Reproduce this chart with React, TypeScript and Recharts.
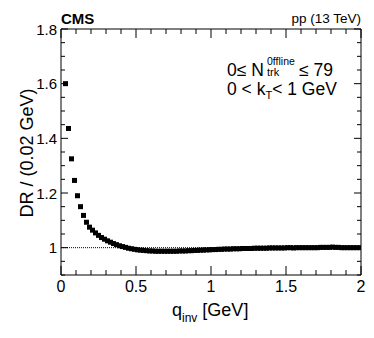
import { ScatterChart, Scatter, XAxis, YAxis, ReferenceLine } from 'recharts';

// bin centres of q_inv (0.02 GeV bins)
const qBins = [
  0.03, 0.05, 0.07, 0.09, 0.11, 0.13, 0.15, 0.17, 0.19, 0.21,
  0.23, 0.25, 0.27, 0.29, 0.31, 0.33, 0.35, 0.37, 0.39, 0.41,
  0.43, 0.45, 0.47, 0.49, 0.51, 0.53, 0.55, 0.57, 0.59, 0.61,
  0.63, 0.65, 0.67, 0.69, 0.71, 0.73, 0.75, 0.77, 0.79, 0.81,
  0.83, 0.85, 0.87, 0.89, 0.91, 0.93, 0.95, 0.97, 0.99, 1.01,
  1.03, 1.05, 1.07, 1.09, 1.11, 1.13, 1.15, 1.17, 1.19, 1.21,
  1.23, 1.25, 1.27, 1.29, 1.31, 1.33, 1.35, 1.37, 1.39, 1.41,
  1.43, 1.45, 1.47, 1.49, 1.51, 1.53, 1.55, 1.57, 1.59, 1.61,
  1.63, 1.65, 1.67, 1.69, 1.71, 1.73, 1.75, 1.77, 1.79, 1.81,
  1.83, 1.85, 1.87, 1.89, 1.91, 1.93, 1.95, 1.97, 1.99,
];

// double ratio per bin
const drValues = [
  1.600, 1.436, 1.325, 1.246, 1.190, 1.150, 1.118, 1.093, 1.075, 1.064,
  1.054, 1.045, 1.037, 1.031, 1.025, 1.020, 1.015, 1.011, 1.007, 1.004,
  1.001, 0.998, 0.996, 0.994, 0.992, 0.991, 0.990, 0.989, 0.988, 0.988,
  0.987, 0.987, 0.987, 0.987, 0.987, 0.987, 0.987, 0.987, 0.988, 0.988,
  0.988, 0.989, 0.989, 0.990, 0.990, 0.991, 0.991, 0.992, 0.992, 0.993,
  0.993, 0.994, 0.994, 0.995, 0.995, 0.995, 0.996, 0.996, 0.996, 0.997,
  0.997, 0.997, 0.997, 0.998, 0.998, 0.998, 0.998, 0.998, 0.999, 0.999,
  0.999, 0.999, 0.999, 0.999, 1.000, 1.000, 0.999, 1.000, 1.000, 1.000,
  1.000, 1.000, 1.000, 1.000, 1.000, 1.001, 1.001, 1.001, 1.001, 1.002,
  1.001, 1.001, 1.000, 1.000, 1.000, 1.000, 1.000, 1.000, 1.000,
];

const xTicks = [
  0, 0.1, 0.2, 0.3, 0.4, 0.5, 0.6, 0.7, 0.8, 0.9, 1,
  1.1, 1.2, 1.3, 1.4, 1.5, 1.6, 1.7, 1.8, 1.9, 2,
];
const yTicks = [
  0.9, 0.95, 1, 1.05, 1.1, 1.15, 1.2, 1.25, 1.3, 1.35,
  1.4, 1.45, 1.5, 1.55, 1.6, 1.65, 1.7, 1.75, 1.8,
];

const points = qBins.map((q, i) => ({ q, dr: drValues[i] }));

const FONT = '"Liberation Sans", Arial, Helvetica, sans-serif';
const W = 374;
const H = 338;
const PLOT_W = 300;
const PLOT_H = 246;

const isMult = (v: number, step: number) => Math.abs(v / step - Math.round(v / step)) < 1e-6;

function XTick(props: any) {
  const { x, y, payload } = props;
  const major = isMult(payload.value, 0.5);
  const len = major ? 9 : 5;
  return (
    <g>
      <line x1={x} x2={x} y1={y} y2={y - len} stroke="#000" />
      <line x1={x} x2={x} y1={y - PLOT_H} y2={y - PLOT_H + len} stroke="#000" />
      {major && (
        <text x={x} y={y + 17} textAnchor="middle" fontSize={16} fontFamily={FONT} fill="#000">
          {String(payload.value)}
        </text>
      )}
    </g>
  );
}

function YTick(props: any) {
  const { x, y, payload } = props;
  const major = isMult(payload.value - 1, 0.2);
  const len = major ? 7 : 4;
  return (
    <g>
      <line x1={x} x2={x + len} y1={y} y2={y} stroke="#000" />
      <line x1={x + PLOT_W} x2={x + PLOT_W - len} y1={y} y2={y} stroke="#000" />
      {major && (
        <text x={x - 4} y={y + 5.5} textAnchor="end" fontSize={15} fontFamily={FONT} fill="#000">
          {String(payload.value)}
        </text>
      )}
    </g>
  );
}

const Square = (p: any) => (
  <rect x={p.cx - 2.5} y={p.cy - 2.5} width={5} height={5} fill="#000" />
);

export default function App() {
  return (
    <div style={{ position: 'absolute', left: 0, top: 0, width: W, height: H, background: '#fff' }}>
      <ScatterChart width={W} height={H} margin={{ top: 29, right: 13, left: 0, bottom: 0 }}>
        <XAxis
          dataKey="q"
          type="number"
          domain={[0, 2]}
          ticks={xTicks}
          interval={0}
          tickSize={0}
          tickMargin={0}
          height={63}
          allowDataOverflow
          axisLine={{ stroke: '#000' }}
          tick={(p: any) => <XTick {...p} />}
        />
        <YAxis
          dataKey="dr"
          type="number"
          domain={[0.9, 1.8]}
          ticks={yTicks}
          interval={0}
          tickSize={0}
          tickMargin={0}
          width={61}
          allowDataOverflow
          axisLine={{ stroke: '#000' }}
          tick={(p: any) => <YTick {...p} />}
        />
        <ReferenceLine y={1.8} stroke="#000" />
        <ReferenceLine x={2} stroke="#000" />
        <ReferenceLine y={1} stroke="#000" strokeDasharray="1 1" />
        <Scatter data={points} shape={Square} isAnimationActive={false} />
      </ScatterChart>
      <svg
        width={W}
        height={H}
        style={{ position: 'absolute', left: 0, top: 0, pointerEvents: 'none' }}
        fontFamily={FONT}
      >
        <text x={61} y={24} fontSize={15} fontWeight="bold">CMS</text>
        <text x={361} y={23} fontSize={13.5} textAnchor="end">pp (13 TeV)</text>
        <text transform="translate(33,153) rotate(-90)" fontSize={18} textAnchor="middle">
          DR / (0.02 GeV)
        </text>
        <text x={172} y={316} fontSize={18}>
          q<tspan fontSize={12} dy={6}>inv</tspan>
          <tspan dy={-6}> [GeV]</tspan>
        </text>
        <text x={227} y={75.5} fontSize={17.5}>0≤ N</text>
        <text x={267} y={65} fontSize={10.5}>0ffline</text>
        <text x={267} y={75.5} fontSize={11}>trk</text>
        <text x={299} y={75.5} fontSize={17.5}>≤ 79</text>
        <text x={227} y={94.5} fontSize={17.5}>
          0 &lt; k<tspan fontSize={11} dy={4}>T</tspan>
          <tspan dy={-4}>&lt; 1 GeV</tspan>
        </text>
      </svg>
    </div>
  );
}
